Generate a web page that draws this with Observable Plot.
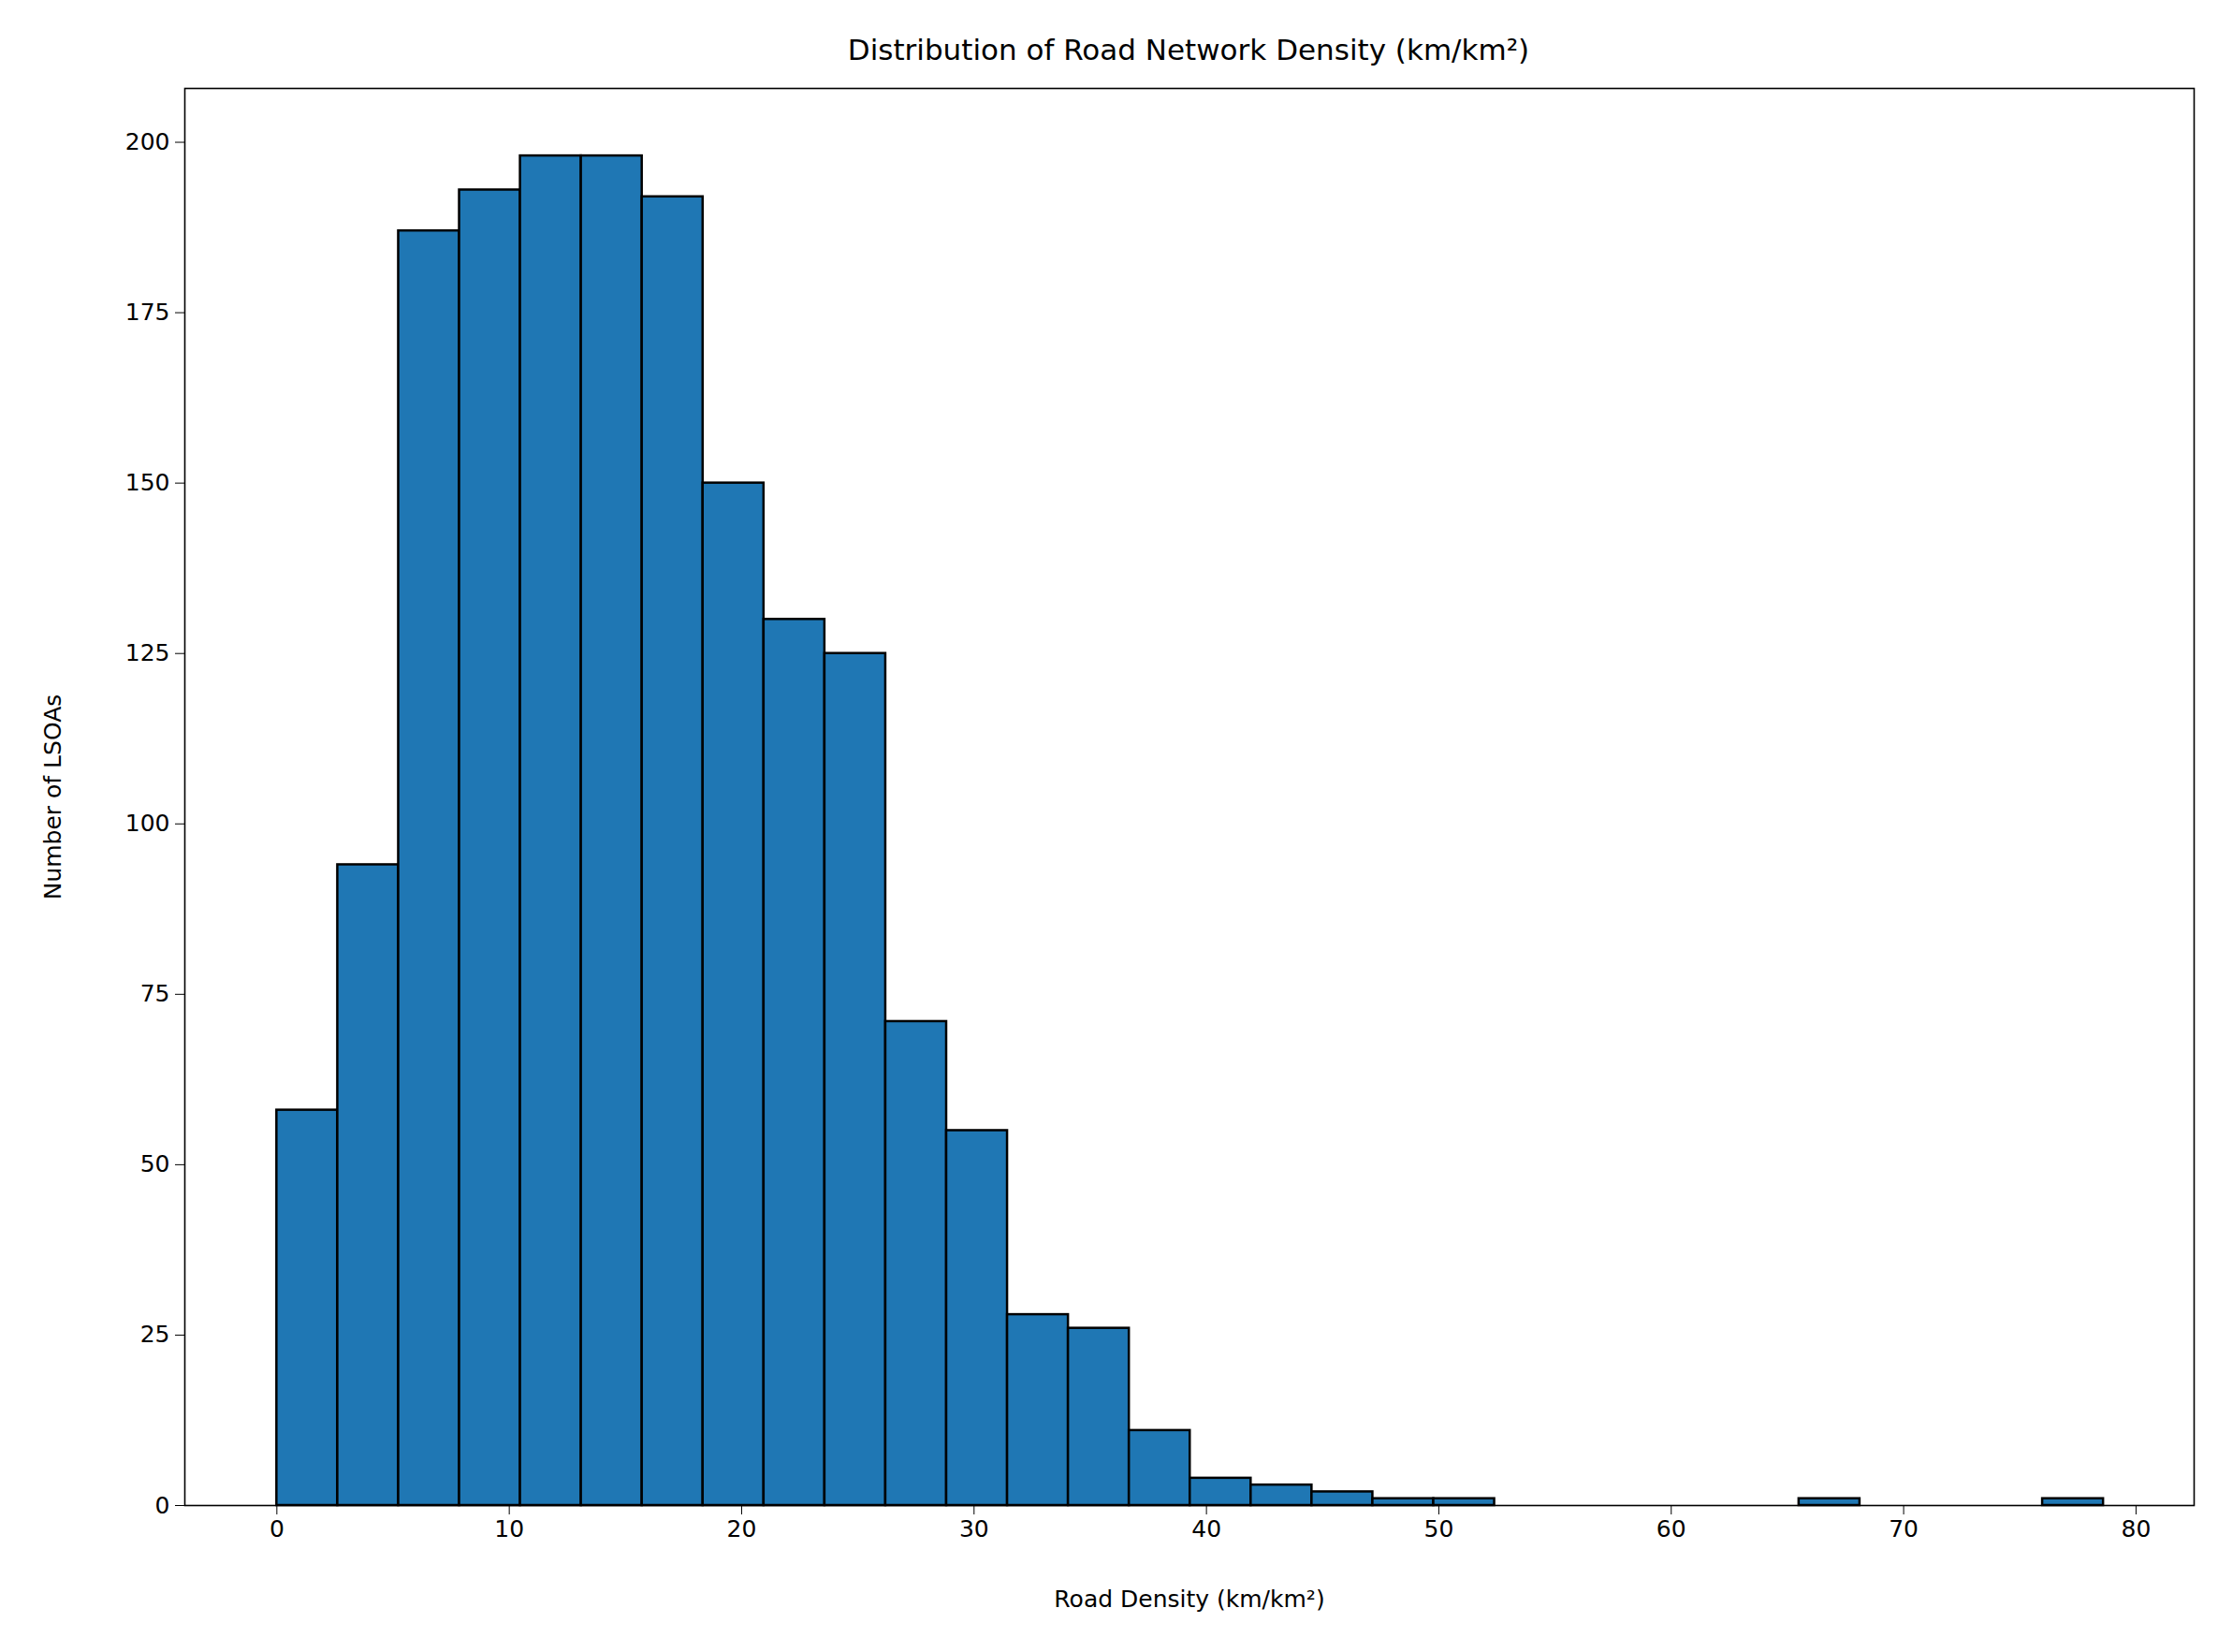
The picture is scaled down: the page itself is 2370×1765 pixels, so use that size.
<!DOCTYPE html>
<html><head><meta charset="utf-8">
<script src="https://cdn.jsdelivr.net/npm/d3@7"></script>
<script src="https://cdn.jsdelivr.net/npm/@observablehq/plot@0.6"></script>
<style>body{margin:0;background:#fff;font-family:"DejaVu Sans",sans-serif}
#t{height:70px;line-height:106px;text-align:center;font-size:31px;color:#000;padding-left:170px}</style>
</head><body><div id="t">Distribution of Road Network Density (km/km²)</div><div id="c"></div>
<script>
const binLow = 0, binHigh = 78.6;
const counts = [58,94,187,193,198,198,192,150,130,125,71,55,28,26,11,4,3,2,1,1,0,0,0,0,0,1,0,0,0,1];
const xTicks = [0,10,20,30,40,50,60,70,80];
const yTicks = [0,25,50,75,100,125,150,175,200];
const w = (binHigh - binLow) / counts.length;
const data = counts.map((c,i)=>({x1: binLow + i*w, x2: binLow + (i+1)*w, y: c}));
const chart = Plot.plot({
  width: 2370, height: 1695,
  marginLeft: 197, marginRight: 26, marginTop: 24, marginBottom: 157,
  style: {fontSize: "25px", fontFamily: "DejaVu Sans", color: "#000", background: "#fff"},
  x: {domain: [-3.96, 82.5]},
  y: {domain: [0, 207.9]},
  marks: [
    Plot.rectY(data, {x1: "x1", x2: "x2", y: "y", fill: "#1f77b4", stroke: "#000", strokeWidth: 2.5, insetLeft: 0, insetRight: 0}),
    Plot.frame({stroke: "#000", strokeWidth: 1.6}),
    Plot.axisX({ticks: xTicks, tickSize: 10, tickPadding: 6, tickFormat: d=>d, label: "Road Density (km/km²)", labelAnchor: "center", labelArrow: "none", labelOffset: 108}),
    Plot.axisY({ticks: yTicks, tickSize: 10, tickPadding: 6, tickFormat: d=>d, label: "Number of LSOAs", labelAnchor: "center", labelArrow: "none", labelOffset: 150})
  ]
});
document.getElementById("c").appendChild(chart);
</script></body></html>
